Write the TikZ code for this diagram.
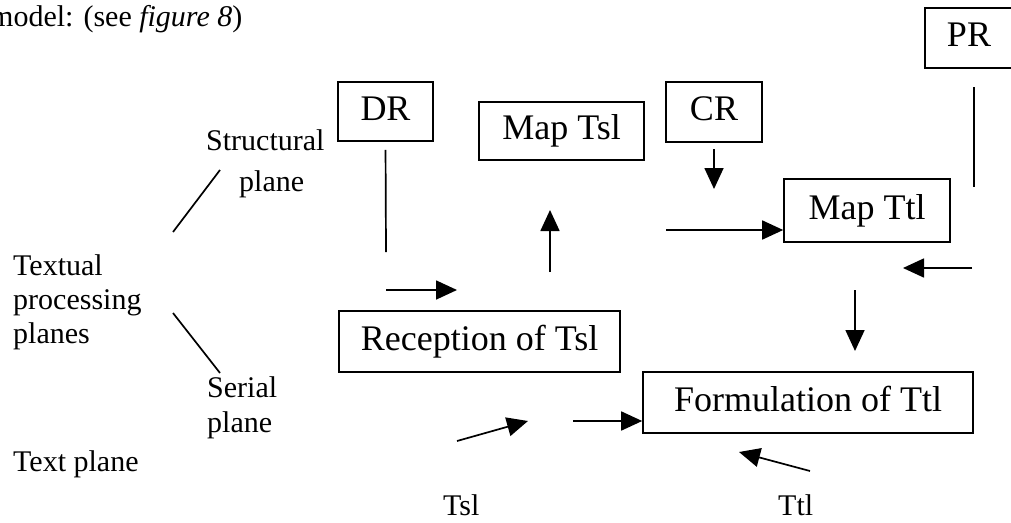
\documentclass[tikz,border=0pt]{standalone}
\usepackage{fontspec}
\setmainfont{Liberation Serif}
\usetikzlibrary{arrows.meta}

\tikzset{
  box/.style={draw, line width=1.6pt, inner sep=0pt, text height=25pt, text depth=8pt,
    font=\fontsize{36}{40}\selectfont},
  lbl/.style={anchor=base west, inner sep=0pt, font=\fontsize{30}{34}\selectfont},
  conn/.style={line width=1.7pt},
  arr/.style={line width=1.7pt, -{Triangle[length=21pt,width=19pt]}}
}

\begin{document}
\begin{tikzpicture}[x=1pt, y=-1pt]
  \clip (0,0) rectangle (1011,522);

  % heading line running into the figure
  \node[lbl] (cap) at (-10,26) {model: (see \textit{figure 8})};

  % processing boxes
  \node[box, minimum width=95pt,  minimum height=59pt] (DR)   at (385.5,111.5) {DR};
  \node[box, minimum width=165pt, minimum height=58pt] (MTsl) at (561.5,131)   {Map Tsl};
  \node[box, minimum width=96pt,  minimum height=60pt] (CR)   at (714,112)     {CR};
  \node[box, minimum width=88pt,  minimum height=60pt] (PR)   at (969,38)      {PR};
  \node[box, minimum width=166pt, minimum height=63pt] (MTtl) at (867,210.5)   {Map Ttl};
  \node[box, minimum width=281pt, minimum height=61pt] (Rec)  at (479.5,341.5) {Reception of Tsl};
  \node[box, minimum width=330pt, minimum height=61pt] (Form) at (808,402.5)   {Formulation of Ttl\hspace{14pt}};

  % plane labels
  \node[lbl] (st1) at (206,150) {Structural};
  \node[lbl] (st2) at (239,191) {plane};
  \node[lbl] (tp1) at (13,275)  {Textual};
  \node[lbl] (tp2) at (13,309)  {processing};
  \node[lbl] (tp3) at (13,343)  {planes};
  \node[lbl] (se1) at (207,397) {Serial};
  \node[lbl] (se2) at (207,432) {plane};
  \node[lbl] (txp) at (13,471)  {Text plane};
  \node[lbl] (tsl) at (443,515) {Tsl};
  \node[lbl] (ttl) at (778,515) {Ttl};

  % free ends of the connectors
  \coordinate (drEnd)   at (386,252);
  \coordinate (recA)    at (386,290);
  \coordinate (recB)    at (457,290);
  \coordinate (upA)     at (550,272);
  \coordinate (upB)     at (550,210);
  \coordinate (crA)     at (714,149);
  \coordinate (crB)     at (714,189);
  \coordinate (mtA)     at (666,230);
  \coordinate (prA)     at (974,87);
  \coordinate (prB)     at (974,187);
  \coordinate (ltA)     at (972,268);
  \coordinate (ltB)     at (903,268);
  \coordinate (dnA)     at (855,290);
  \coordinate (dnB)     at (855,351);
  \coordinate (fmA)     at (573,421);
  \coordinate (tsA)     at (457,441);
  \coordinate (tsB)     at (528,421);
  \coordinate (ttA)     at (810,471);
  \coordinate (ttB)     at (739,452);
  \coordinate (stA)     at (173,232);
  \coordinate (stB)     at (220,170);
  \coordinate (seA)     at (173,313);
  \coordinate (seB)     at (220,373);

  % connectors
  \draw[conn, shorten <=8pt] (DR.south) -- (drEnd);
  \draw[arr] (recA) -- (recB);
  \draw[arr] (upA) -- (upB);
  \draw[arr] (crA) -- (crB);
  \draw[arr] (mtA) -- (MTtl.west |- mtA);
  \draw[conn] (prA) -- (prB);
  \draw[arr] (ltA) -- (ltB);
  \draw[arr] (dnA) -- (dnB);
  \draw[arr] (fmA) -- (Form.west |- fmA);
  \draw[arr] (tsA) -- (tsB);
  \draw[arr] (ttA) -- (ttB);
  \draw[conn] (stA) -- (stB);
  \draw[conn] (seA) -- (seB);
\end{tikzpicture}
\end{document}
